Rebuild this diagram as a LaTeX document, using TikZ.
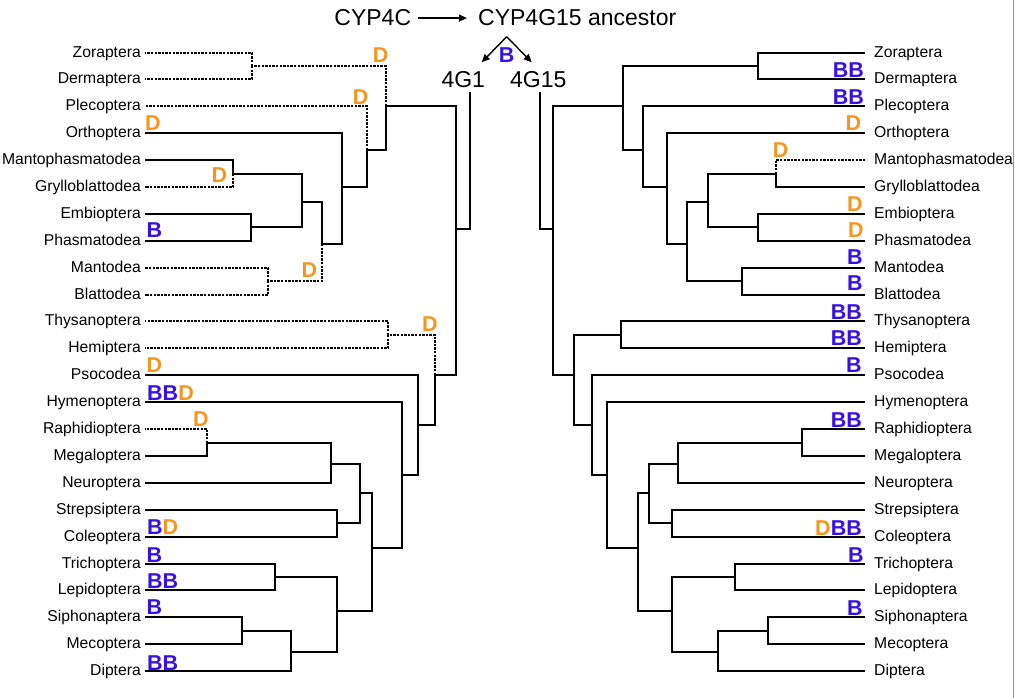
\documentclass[tikz,border=0pt]{standalone}
\usepackage{fontspec}
\setmainfont{Liberation Sans}
\usetikzlibrary{arrows.meta,calc}
\definecolor{mblue}{RGB}{58,16,226}
\definecolor{morange}{RGB}{245,150,30}
\newcommand\treeedge[3][br]{\draw[#1] (#2) -- (#2 |- #3) -- (#3);}
\begin{document}
\begin{tikzpicture}[x=1pt,y=-1pt,
  br/.style={line width=2pt},
  dt/.style={line width=2pt, dash pattern=on 2.4pt off 1.2pt},
  leafL/.style={anchor=base east, inner sep=0, font=\fontsize{15.7}{16}\selectfont},
  leafR/.style={anchor=base west, inner sep=0, font=\fontsize{15.7}{16}\selectfont},
  mk/.style={inner sep=0, font=\fontsize{21.5}{22}\selectfont\bfseries},
  mb/.style={mk, text=mblue},
  mo/.style={mk, text=morange},
  big/.style={inner sep=0, font=\fontsize{23}{24}\selectfont},
  arr/.style={line width=1.4pt, -{Triangle[length=8pt,width=7pt]}}
]
\useasboundingbox (0,0) rectangle (1015,698);
\draw[gray!80, line width=1pt] (1013.5,0) -- (1013.5,698);

% leaves
\foreach \n [count=\i from 0] in {Zoraptera,Dermaptera,Plecoptera,Orthoptera,Mantophasmatodea,Grylloblattodea,Embioptera,Phasmatodea,Mantodea,Blattodea,Thysanoptera,Hemiptera,Psocodea,Hymenoptera,Raphidioptera,Megaloptera,Neuroptera,Strepsiptera,Coleoptera,Trichoptera,Lepidoptera,Siphonaptera,Mecoptera,Diptera}{
  \pgfmathsetmacro\yy{round(52.5+26.9*\i)}
  \node[leafL] (L\i) at (141,{\yy+4.5}) {\n};
  \node[leafR] (R\i) at (874,{\yy+4.5}) {\n};
  \coordinate (a\i) at (145,\yy);
  \coordinate (b\i) at (865,\yy);
}

% top
\node[big, anchor=base] (c4c) at (372.8,26) {CYP4C};
\node[big, anchor=base west] (anc) at (478,26) {CYP4G15 ancestor};
\draw[arr, shorten <=7pt, shorten >=11pt] (c4c.east) -- (anc.west);
\node[big] (g1) at (463.3,79.5) {4G1};
\node[big] (g15) at (538.3,79.5) {4G15};
\coordinate (apex) at (506.7,36.7);
\coordinate (tip1) at (481.7,62.3);
\coordinate (tip15) at (531.7,62.3);
\draw[arr] (apex) -- (tip1);
\draw[arr] (apex) -- (tip15);
\node[mb] (mtop) at (506.7,55) {B};
\coordinate (g1t) at (470,92);
\coordinate (g15t) at (540,92);

% left tree coordinates
\coordinate (lRoot) at (456,229);
\coordinate (lA) at (386,106);
\coordinate (lZD) at (252,66);
\coordinate (lB) at (367,150);
\coordinate (lC) at (342,187);
\coordinate (lD) at (322,244);
\coordinate (lE) at (268,281);
\coordinate (lF) at (302,202);
\coordinate (lG) at (233,174);
\coordinate (lH) at (251,227);
\coordinate (lI) at (435,375);
\coordinate (lJ) at (388,335);
\coordinate (lK) at (418,425);
\coordinate (lL) at (402,475);
\coordinate (lM) at (372,548);
\coordinate (lN) at (360,493);
\coordinate (lO) at (331,464);
\coordinate (lRM) at (207,443);
\coordinate (lSC) at (337,523);
\coordinate (lP) at (337,611);
\coordinate (lTL) at (275,577);
\coordinate (lQ) at (291,652);
\coordinate (lSM) at (242,631);

\draw[br] (g1t) |- (lRoot);
\treeedge{lRoot}{lA} \treeedge{lRoot}{lI}
\treeedge[dt]{lA}{lZD} \treeedge{lA}{lB}
\treeedge[dt]{lZD}{a0} \treeedge[dt]{lZD}{a1}
\treeedge[dt]{lB}{a2} \treeedge{lB}{lC}
\treeedge{lC}{a3} \treeedge{lC}{lD}
\treeedge{lD}{lF} \treeedge[dt]{lD}{lE}
\treeedge[dt]{lE}{a8} \treeedge[dt]{lE}{a9}
\treeedge{lF}{lG} \treeedge{lF}{lH}
\treeedge{lG}{a4} \treeedge[dt]{lG}{a5}
\treeedge{lH}{a6} \treeedge{lH}{a7}
\treeedge[dt]{lI}{lJ} \treeedge{lI}{lK}
\treeedge[dt]{lJ}{a10} \treeedge[dt]{lJ}{a11}
\treeedge{lK}{a12} \treeedge{lK}{lL}
\treeedge{lL}{a13} \treeedge{lL}{lM}
\treeedge{lM}{lN} \treeedge{lM}{lP}
\treeedge{lN}{lO} \treeedge{lN}{lSC}
\treeedge{lO}{lRM} \treeedge{lO}{a16}
\treeedge[dt]{lRM}{a14} \treeedge{lRM}{a15}
\treeedge{lSC}{a17} \treeedge{lSC}{a18}
\treeedge{lP}{lTL} \treeedge{lP}{lQ}
\treeedge{lTL}{a19} \treeedge{lTL}{a20}
\treeedge{lQ}{lSM} \treeedge{lQ}{a23}
\treeedge{lSM}{a21} \treeedge{lSM}{a22}

% right tree coordinates
\coordinate (rRoot) at (553,229);
\coordinate (rA) at (623,106);
\coordinate (rZD) at (758,66);
\coordinate (rB) at (643,150);
\coordinate (rC) at (667,187);
\coordinate (rD) at (687,244);
\coordinate (rF) at (708,202);
\coordinate (rG) at (776,174);
\coordinate (rH) at (758,227);
\coordinate (rE) at (742,281);
\coordinate (rI) at (574,375);
\coordinate (rJ) at (621,335);
\coordinate (rK) at (592,425);
\coordinate (rL) at (607,475);
\coordinate (rM) at (638,548);
\coordinate (rN) at (649,493);
\coordinate (rO) at (678,464);
\coordinate (rRM) at (802,443);
\coordinate (rSC) at (672,523);
\coordinate (rP) at (672,611);
\coordinate (rTL) at (735,577);
\coordinate (rQ) at (718,652);
\coordinate (rSM) at (768,631);

\draw[br] (g15t) |- (rRoot);
\treeedge{rRoot}{rA} \treeedge{rRoot}{rI}
\treeedge{rA}{rZD} \treeedge{rA}{rB}
\treeedge{rZD}{b0} \treeedge{rZD}{b1}
\treeedge{rB}{b2} \treeedge{rB}{rC}
\treeedge{rC}{b3} \treeedge{rC}{rD}
\treeedge{rD}{rF} \treeedge{rD}{rE}
\treeedge{rF}{rG} \treeedge{rF}{rH}
\treeedge[dt]{rG}{b4} \treeedge{rG}{b5}
\treeedge{rH}{b6} \treeedge{rH}{b7}
\treeedge{rE}{b8} \treeedge{rE}{b9}
\treeedge{rI}{rJ} \treeedge{rI}{rK}
\treeedge{rJ}{b10} \treeedge{rJ}{b11}
\treeedge{rK}{b12} \treeedge{rK}{rL}
\treeedge{rL}{b13} \treeedge{rL}{rM}
\treeedge{rM}{rN} \treeedge{rM}{rP}
\treeedge{rN}{rO} \treeedge{rN}{rSC}
\treeedge{rO}{rRM} \treeedge{rO}{b16}
\treeedge{rRM}{b14} \treeedge{rRM}{b15}
\treeedge{rSC}{b17} \treeedge{rSC}{b18}
\treeedge{rP}{rTL} \treeedge{rP}{rQ}
\treeedge{rTL}{b19} \treeedge{rTL}{b20}
\treeedge{rQ}{rSM} \treeedge{rQ}{b23}
\treeedge{rSM}{b21} \treeedge{rSM}{b22}

% left markers
\node[mo] (m1) at (380.7,55) {D};
\node[mo] (m2) at (360.7,97.3) {D};
\node[mo] (m3) at (153,123.3) {D};
\node[mo] (m4) at (219.3,175) {D};
\node[mb] (m5) at (154.3,230) {B};
\node[mo] (m6) at (309.3,270) {D};
\node[mo] (m7) at (430,324.3) {D};
\node[mo] (m8) at (154.3,365) {D};
\node[mk, anchor=west] (m9) at (147,393.3) {\textcolor{mblue}{BB}\textcolor{morange}{D}};
\node[mo] (m10) at (201,419.3) {D};
\node[mk, anchor=west] (m11) at (147,526.7) {\textcolor{mblue}{B}\textcolor{morange}{D}};
\node[mb] (m12) at (154.3,555) {B};
\node[mb, anchor=west] (m13) at (147,581) {BB};
\node[mb] (m14) at (154.3,606.7) {B};
\node[mb, anchor=west] (m15) at (147,662.7) {BB};

% right markers
\node[mb, anchor=east] (n1) at (864,70) {BB};
\node[mb, anchor=east] (n2) at (864,97.3) {BB};
\node[mo] (n3) at (853.5,123.3) {D};
\node[mo] (n4) at (780.7,150) {D};
\node[mo] (n5) at (855,204) {D};
\node[mo] (n6) at (856,230) {D};
\node[mb] (n7) at (855,257.3) {B};
\node[mb] (n8) at (855,283.3) {B};
\node[mb, anchor=east] (n9) at (862,311.7) {BB};
\node[mb, anchor=east] (n10) at (862,338.3) {BB};
\node[mb] (n11) at (854,365) {B};
\node[mb, anchor=east] (n12) at (862,420) {BB};
\node[mk, anchor=east] (n13) at (862,528.3) {\textcolor{morange}{D}\textcolor{mblue}{BB}};
\node[mb] (n14) at (856,555) {B};
\node[mb] (n15) at (855,607.7) {B};
\end{tikzpicture}
\end{document}
